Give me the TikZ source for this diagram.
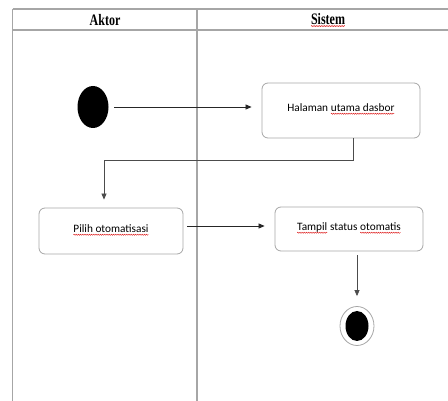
\documentclass[tikz,border=0pt]{standalone}
\usepackage{fontspec}
\setmainfont{Carlito}
\newfontfamily\hdrfont{Liberation Serif}
\usepackage{graphicx}
\usetikzlibrary{arrows.meta,shapes.geometric,decorations.pathmorphing}
\tikzset{
  wordbox/.style={shape=rectangle, draw=none, fill=none, rounded corners=0pt, minimum width=0pt, minimum height=0pt, inner sep=0pt, outer sep=0pt},
  squig/.style={draw=red!85!black, line width=0.35pt, rounded corners=0pt, decorate, decoration={zigzag,amplitude=0.6pt,segment length=2.2pt}}
}
\newcommand\redsq[1]{\tikz[baseline=(wd.base),x=1pt,y=1pt]{\node[wordbox] (wd) {#1};
  \draw[squig] ([yshift=-1.8pt]wd.base west) -- ([yshift=-1.8pt]wd.base east);}}
\tikzset{
  lane/.style={draw=black!35, line width=1.3pt},
  actbox/.style={draw=black!35, line width=0.8pt, rounded corners=6pt, inner sep=0pt, font=\fontsize{11.3}{13}\selectfont},
  arr/.style={draw=black!85, line width=0.7pt, -{Triangle[length=6pt,width=5pt]}},
  hdr/.style={font=\hdrfont\bfseries\fontsize{16}{18}\selectfont, inner sep=0pt}
}
\begin{document}
\begin{tikzpicture}[x=1pt,y=-1pt]
\useasboundingbox (0,0) rectangle (448,401);
% swimlane frame
\draw[lane] (12.5,9) -- (448,9);
\draw[lane] (12.5,30) -- (448,30);
\draw[lane] (12.5,9) -- (12.5,401);
\draw[lane] (197,9) -- (197,401);
\node[hdr] (haktor) at (105,20) {\scalebox{0.75}[1]{Aktor}};
\node[hdr] (hsistem) at (328,20) {\scalebox{0.75}[1]{\redsq{Sistem}}};
% nodes
\node[ellipse, fill=black, minimum width=31pt, minimum height=42pt, inner sep=0pt] (start) at (93,107) {};
\node[actbox, minimum width=158pt, minimum height=55pt] (box1) at (341,110.5) {\raisebox{5pt}{Halaman \redsq{utama dasbor}}};
\node[actbox, minimum width=144pt, minimum height=46pt] (box2) at (111,231) {\raisebox{4pt}{\redsq{Pilih otomatisasi}}};
\node[actbox, minimum width=148pt, minimum height=44pt] (box3) at (349,229) {\raisebox{4pt}{\redsq{Tampil} status \redsq{otomatis}}};
\node[ellipse, draw=black!35, line width=0.8pt, minimum width=34pt, minimum height=39pt, inner sep=0pt] (endo) at (357,326) {};
\node[ellipse, fill=black, minimum width=23pt, minimum height=30pt, inner sep=0pt] (endi) at (357,326) {};
% connectors
\draw[arr, shorten <=5.5pt, shorten >=10pt] (start.east) -- (start.east -| box1.west);
\draw[arr, draw=black!70, shorten >=8pt] ([xshift=12pt]box1.south) -- ++(0,22) -| ([xshift=-7pt]box2.north);
\draw[arr, shorten <=4pt, shorten >=10pt] ([yshift=5pt]box2.east) -- ([yshift=5pt]box2.east -| box3.west);
\draw[arr, draw=black!70, shorten <=4pt, shorten >=10pt] ([xshift=8pt]box3.south) -- (endo.north);
\end{tikzpicture}
\end{document}
